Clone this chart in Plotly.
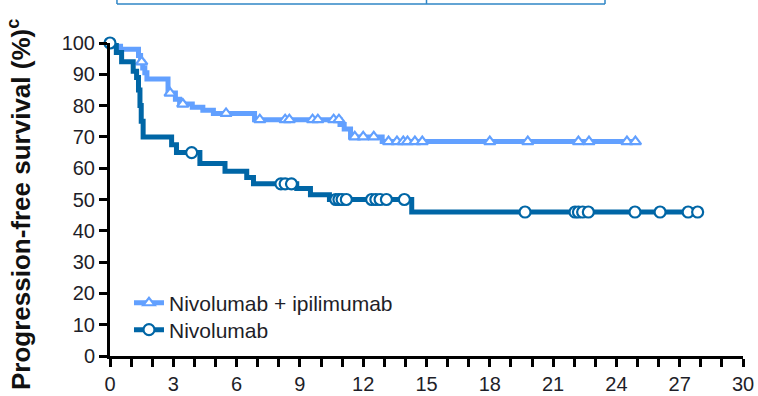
import plotly.graph_objects as go

# Kaplan-Meier step data (months, % progression-free)
combo_times = [0, 0.25, 0.5, 1.35, 1.45, 1.55, 1.65, 1.75, 2.75, 3.1, 3.3, 3.9, 4.4, 4.9,
               6.85, 10.9, 11.1, 11.4, 12.9, 24.9]
combo_surv = [100, 99, 98, 96, 94, 92, 90.5, 88.5, 84, 82, 80.5, 79.5, 78.5, 77.5,
              75.5, 74, 72.5, 70, 68.5, 68.5]
combo_censored = [1.5, 2.85, 3.45, 5.5, 7.1, 8.3, 8.5, 9.6, 9.85, 10.6, 10.85, 11.6, 12.0,
                  12.5, 13.2, 13.6, 13.9, 14.1, 14.45, 14.8, 18.0, 19.8, 22.2, 22.7, 24.5, 24.9]

nivo_times = [0, 0.3, 0.55, 1.1, 1.26, 1.35, 1.42, 1.48, 1.57, 2.92, 3.15, 4.26, 5.45,
              6.48, 6.8, 8.85, 9.5, 10.4, 14.3, 27.85]
nivo_surv = [100, 97, 94, 91, 89, 85, 80, 75, 70, 67.5, 65, 61.5, 59,
             57, 55, 53.5, 51.5, 50, 46, 46]
nivo_censored = [0, 3.87, 8.1, 8.3, 8.6, 10.7, 10.85, 11.0, 11.2, 12.4, 12.6, 12.8, 13.1,
                 13.95, 19.67, 22.04, 22.2, 22.4, 22.67, 24.88, 26.07, 27.4, 27.85]

x_ticks = list(range(0, 31, 3))
y_ticks = list(range(0, 101, 10))

COMBO_COLOR = "#62a0ff"
NIVO_COLOR = "#0066a6"
TEXT = "#1e1e28"
FONT = "Liberation Sans, Arial, sans-serif"


def surv_at(times, surv, t):
    """Survival level of a step curve at time t."""
    level = surv[0]
    for ti, si in zip(times, surv):
        if ti <= t:
            level = si
        else:
            break
    return level


fig = go.Figure()

arms = [
    ("Nivolumab + ipilimumab", combo_times, combo_surv, combo_censored, COMBO_COLOR,
     "triangle-up", 10, "legend"),
    ("Nivolumab", nivo_times, nivo_surv, nivo_censored, NIVO_COLOR, "circle", 11, "legend2"),
]

for name, times, surv, cens, color, symbol, msize, leg in arms:
    fig.add_trace(go.Scatter(
        x=times, y=surv, mode="lines", line=dict(color=color, width=5, shape="hv"),
        showlegend=False, cliponaxis=False, hoverinfo="skip"))
    fig.add_trace(go.Scatter(
        x=cens, y=[surv_at(times, surv, t) for t in cens], mode="markers",
        marker=dict(symbol=symbol, size=msize, color="white",
                    line=dict(color=color, width=2.2)),
        showlegend=False, cliponaxis=False))
    fig.add_trace(go.Scatter(
        x=[None], y=[None], mode="lines+markers", name=name, legend=leg,
        line=dict(color=color, width=5),
        marker=dict(symbol=symbol, size=msize, color="white",
                    line=dict(color=color, width=2.2))))

legend_style = dict(x=0.03, xanchor="left", yanchor="middle", bgcolor="rgba(0,0,0,0)",
                    font=dict(family=FONT, size=21, color=TEXT))

fig.update_layout(
    width=758, height=396,
    margin=dict(l=110, r=15, t=43, b=40),
    paper_bgcolor="white", plot_bgcolor="white",
    font=dict(family=FONT, size=20, color=TEXT),
    showlegend=True,
    legend=dict(y=0.169, **legend_style),
    legend2=dict(y=0.083, **legend_style),
    xaxis=dict(range=[0, 30], tickvals=x_ticks, ticks="outside", ticklen=8, tickwidth=2.5,
               tickcolor="black", showline=True, linewidth=3, linecolor="black",
               showgrid=False, zeroline=False, automargin=False,
               tickfont=dict(size=20, color=TEXT),
               minor=dict(dtick=1, ticks="outside", ticklen=8, tickwidth=2.5,
                          tickcolor="black", showgrid=False)),
    yaxis=dict(range=[0, 100], tickvals=y_ticks, ticks="outside", ticklen=8, tickwidth=2.5,
               tickcolor="black", showline=True, linewidth=3, linecolor="black",
               showgrid=False, zeroline=False, automargin=False,
               tickfont=dict(size=20, color=TEXT)),
)

# vertical axis title
fig.add_annotation(
    text="<b>Progression-free survival (%)<sup>c</sup></b>",
    xref="paper", yref="paper", x=-0.144, y=0.485, textangle=-90,
    showarrow=False, font=dict(family=FONT, size=26, color="#111111"),
    xanchor="center", yanchor="middle")

# lower edge of the table above the plot
box_color = "#2f86c6"
fig.add_shape(type="line", xref="paper", yref="paper", x0=0.011, x1=0.782, y0=1.125, y1=1.125,
              line=dict(color=box_color, width=1.5))
for xv in (0.011, 0.5, 0.782):
    fig.add_shape(type="line", xref="paper", yref="paper", x0=xv, x1=xv, y0=1.125, y1=1.16,
                  line=dict(color=box_color, width=1.5))

fig.write_html("out.html")
